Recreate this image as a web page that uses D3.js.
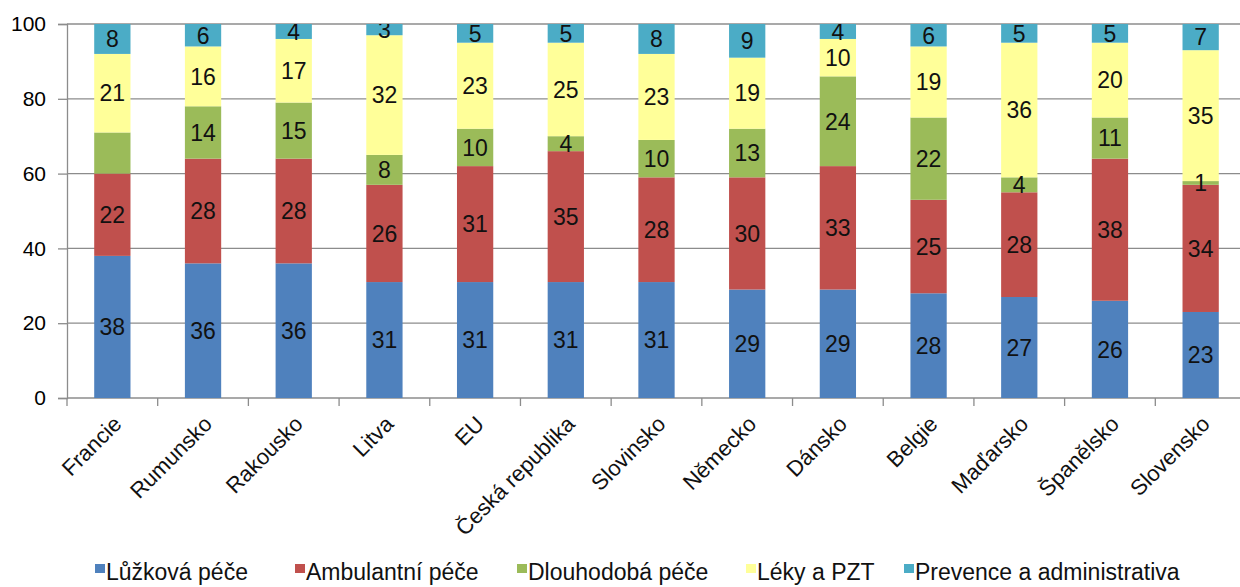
<!DOCTYPE html>
<html>
<head>
<meta charset="utf-8">
<script src="https://cdn.jsdelivr.net/npm/d3@7"></script>
<style>
  body { margin: 0; background: #fff; }
  svg { display: block; font-family: "Liberation Sans", Arial, sans-serif; }
</style>
</head>
<body>
<div id="chart"></div>
<script>
const categories = ['Francie', 'Rumunsko', 'Rakousko', 'Litva', 'EU', 'Česká republika', 'Slovinsko',
  'Německo', 'Dánsko', 'Belgie', 'Maďarsko', 'Španělsko', 'Slovensko']
const seriesNames = ['Lůžková péče', 'Ambulantní péče', 'Dlouhodobá péče', 'Léky a PZT', 'Prevence a administrativa']
const luzkova     = [38, 36, 36, 31, 31, 31, 31, 29, 29, 28, 27, 26, 23]
const ambulantni  = [22, 28, 28, 26, 31, 35, 28, 30, 33, 25, 28, 38, 34]
const dlouhodoba  = [11, 14, 15, 8, 10, 4, 10, 13, 24, 22, 4, 11, 1]
const leky        = [21, 16, 17, 32, 23, 25, 23, 19, 10, 19, 36, 20, 35]
const prevence    = [8, 6, 4, 3, 5, 5, 8, 9, 4, 6, 5, 5, 7]
const yTicks = [0, 20, 40, 60, 80, 100]
// the reference shows no label on this one segment
const hiddenLabels = [['Dlouhodobá péče', 'Francie']]

const colors = ['#4f81bd', '#c0504d', '#9bbb59', '#ffff99', '#4bacc6']
const values = [luzkova, ambulantni, dlouhodoba, leky, prevence]

let w = 1240, h = 587

let rows = categories.map((c, i) => {
  let r = {cat: c}
  seriesNames.forEach((s, k) => { r[s] = values[k][i] })
  return r
})
let stacked = d3.stack().keys(seriesNames)(rows)

let svg = d3.select('#chart').append('svg').attr('width', w).attr('height', h)

let x = d3.scaleBand().domain(categories).range([67, 1246]).paddingInner(0.6).paddingOuter(0.3)
let y = d3.scaleLinear().domain([0, 100]).range([398, 24])

// gridlines
svg.append('g').selectAll('line').data(yTicks.filter(d => d > 0)).enter().append('line')
  .attr('x1', 67).attr('x2', 1246)
  .attr('y1', d => y(d)).attr('y2', d => y(d))
  .attr('stroke', '#8c8c8c').attr('stroke-width', 1.3)

// y axis
let yAxis = svg.append('g').attr('transform', 'translate(67,0)')
  .call(d3.axisLeft(y).tickValues(yTicks).tickSize(9).tickPadding(12))
yAxis.select('.domain').attr('stroke', '#8c8c8c').attr('stroke-width', 1.3)
yAxis.selectAll('.tick line').attr('stroke', '#8c8c8c').attr('stroke-width', 1.3)
yAxis.selectAll('text').attr('font-size', 21).attr('fill', '#000').attr('font-family', 'Liberation Sans, Arial, sans-serif')

// x axis line and ticks at band boundaries
let step = x.step()
svg.append('line').attr('x1', 67).attr('x2', 1246).attr('y1', 398).attr('y2', 398)
  .attr('stroke', '#8c8c8c').attr('stroke-width', 1.3)
svg.append('g').selectAll('line').data(d3.range(categories.length + 1)).enter().append('line')
  .attr('x1', i => 67 + i * step).attr('x2', i => 67 + i * step)
  .attr('y1', 398).attr('y2', 406)
  .attr('stroke', '#8c8c8c').attr('stroke-width', 1.3)

// bars
let groups = svg.append('g').selectAll('g').data(stacked).enter().append('g')
  .attr('fill', (d, i) => colors[i])
groups.selectAll('rect').data(d => d).enter().append('rect')
  .attr('x', d => x(d.data.cat))
  .attr('width', x.bandwidth())
  .attr('y', d => y(d[1]))
  .attr('height', d => y(d[0]) - y(d[1]))

// labels, clipped at the plot top
svg.append('clipPath').attr('id', 'plot').append('rect')
  .attr('x', 60).attr('y', 24).attr('width', 1200).attr('height', 380)
let labels = svg.append('g').attr('clip-path', 'url(#plot)')
stacked.forEach(s => {
  s.forEach(d => {
    if (hiddenLabels.some(p => p[0] === s.key && p[1] === d.data.cat)) return
    labels.append('text')
      .attr('x', x(d.data.cat) + x.bandwidth() / 2)
      .attr('y', y((d[0] + d[1]) / 2))
      .attr('dy', '0.36em')
      .attr('text-anchor', 'middle')
      .attr('font-size', 23)
      .attr('fill', '#111')
      .text(d[1] - d[0])
  })
})

// x labels
svg.append('g').selectAll('text').data(categories).enter().append('text')
  .attr('transform', d => `translate(${x(d) + x.bandwidth() / 2 + 5},${420}) rotate(-45)`)
  .attr('text-anchor', 'end')
  .attr('dy', '0.35em')
  .attr('font-size', 22)
  .attr('fill', '#111')
  .text(d => d)

// legend
let legendX = [95, 295, 517, 746, 904]
let legend = svg.append('g').selectAll('g').data(seriesNames).enter().append('g')
  .attr('transform', (d, i) => `translate(${legendX[i]},580)`)
legend.append('rect').attr('x', 0).attr('y', -16).attr('width', 10).attr('height', 9)
  .attr('fill', (d, i) => colors[i])
legend.append('text').attr('x', 11).attr('font-size', 23).attr('fill', '#111')
  .text(d => d)
</script>
</body>
</html>
